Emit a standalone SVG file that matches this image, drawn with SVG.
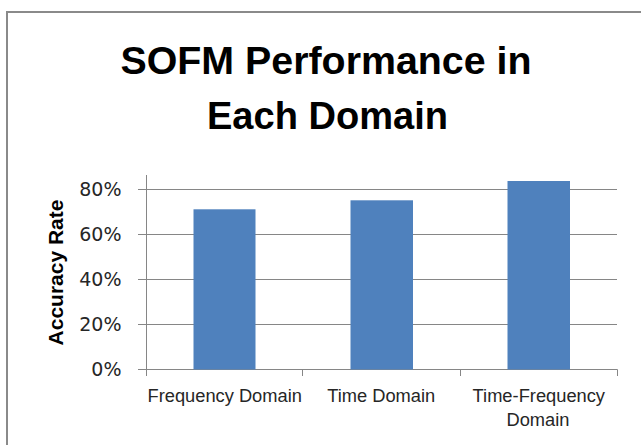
<svg xmlns="http://www.w3.org/2000/svg" width="641" height="445" viewBox="0 0 641 445">
<style>
.title{font-family:"Liberation Sans",Arial,sans-serif;font-weight:bold;font-size:39px;fill:#000;text-anchor:middle}
.ylab{font-family:"DejaVu Sans","Liberation Sans",sans-serif;font-size:19px;fill:#262626;text-anchor:end}
.xlab{font-family:"Liberation Sans",Arial,sans-serif;font-size:18.3px;fill:#262626;text-anchor:middle}
.atitle{font-family:"Liberation Sans",Arial,sans-serif;font-weight:bold;font-size:21px;fill:#000;text-anchor:middle}
.grid{stroke:#868686;stroke-width:1;fill:none}
.bar{fill:#4F81BD}
</style>
<rect x="0" y="0" width="641" height="445" fill="#fff"/>
<path d="M7 445 V12 H641" fill="none" stroke="#8a8a8a" stroke-width="2"/>
<g id="title">
<text class="title" x="326" y="74" textLength="411" lengthAdjust="spacingAndGlyphs">SOFM Performance in</text>
<text class="title" x="327.5" y="129" textLength="241" lengthAdjust="spacingAndGlyphs">Each Domain</text>
</g>
<g id="axes">
<path class="grid" d="M138 189.5H617M138 234.5H617M138 279.5H617M138 324.5H617"/>
<path class="grid" d="M146.5 175V369.5M138 369.5H617.5M146.5 369.5V376M302.5 369.5V376M460.5 369.5V376M617.5 369.5V376"/>
<text class="ylab" x="121.5" y="196">80%</text>
<text class="ylab" x="121.5" y="241">60%</text>
<text class="ylab" x="121.5" y="286">40%</text>
<text class="ylab" x="121.5" y="331">20%</text>
<text class="ylab" x="121.5" y="376">0%</text>
<text class="atitle" transform="translate(63 272.5) rotate(-90)">Accuracy Rate</text>
</g>
<g id="bar-frequency">
<rect class="bar" x="193.5" y="209.3" width="62" height="160.2"/>
<text class="xlab" x="224.7" y="402">Frequency Domain</text>
</g>
<g id="bar-time">
<rect class="bar" x="350.5" y="200.3" width="62.5" height="169.2"/>
<text class="xlab" x="381.2" y="402">Time Domain</text>
</g>
<g id="bar-time-frequency">
<rect class="bar" x="507.5" y="181" width="62.5" height="188.5"/>
<text class="xlab" x="538.8" y="402">Time-Frequency</text>
<text class="xlab" x="538" y="426">Domain</text>
</g>
</svg>
